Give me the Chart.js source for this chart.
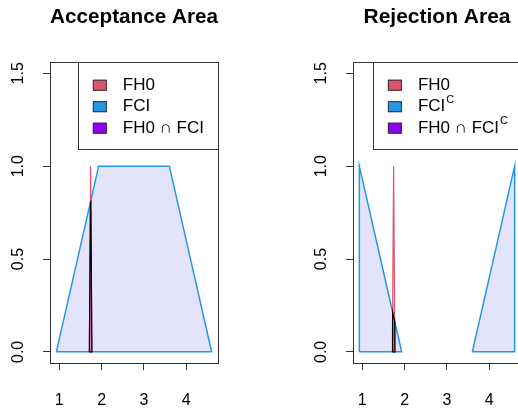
<!DOCTYPE html>
<html lang="en">
<head>
<meta charset="UTF-8" />
<title>Acceptance and Rejection Area</title>
<script src="https://cdn.jsdelivr.net/npm/chart.js"></script>
<style>
  body { margin: 0; background: #fff; }
  .wrap { position: relative; width: 518px; height: 410px; overflow: hidden; }
  canvas { position: absolute; top: 0; }
  #accept { left: 0; }
  #reject { left: 303px; }
</style>
</head>
<body>
<div class="wrap">
  <canvas id="accept" width="268" height="410"></canvas>
  <canvas id="reject" width="268" height="410"></canvas>
</div>
<script>
  // axes
  const xTicks = [1, 2, 3, 4];
  const yTicks = [0, 0.5, 1, 1.5];
  const yTickLabels = ['0.0', '0.5', '1.0', '1.5'];
  const xRange = [0.78, 4.75];
  const yRange = [-0.06, 1.56];

  // FH0: narrow triangle
  const fh0X = [1.71, 1.74, 1.77];
  const fh0Y = [0, 1, 0];
  // FCI: trapezoid
  const fciX = [0.93, 1.93, 3.6, 4.6];
  const fciY = [0, 1, 1, 0];
  // FCI complement: two triangles
  const fciCLeftX = [0.93, 0.93, 1.93];
  const fciCLeftY = [0, 1, 0];
  const fciCRightX = [3.6, 4.6, 4.6];
  const fciCRightY = [0, 1, 0];
  // intersections
  const accInterX = [1.71, 1.735, 1.745, 1.77];
  const accInterY = [0, 0.80, 0.815, 0];
  const rejInterX = [1.71, 1.716, 1.765, 1.77];
  const rejInterY = [0, 0.214, 0.165, 0];

  // legend
  const legendColors = ['#DF536B', '#2297E6', '#9000F0'];
  const accLabels = ['FH0', 'FCI', 'FH0 \u2229 FCI'];
  const accSup = [false, false, false];
  const rejLabels = ['FH0', 'FCI', 'FH0 \u2229 FCI'];
  const rejSup = [false, true, true];

  const FONT = '"Liberation Sans", Arial, Helvetica, sans-serif';
  const RED = '#DF536B', BLUE = '#2297E6';

  function polygon(xs, ys, line, fill, lw, order) {
    const pts = xs.map((x, i) => ({ x: x, y: ys[i] }));
    return [
      { data: pts, showLine: true, pointRadius: 0, borderColor: 'rgba(0,0,0,0)', borderWidth: 1,
        backgroundColor: fill, fill: 'origin', order: order + 1 },
      { data: pts.concat([pts[0]]), showLine: true, pointRadius: 0, borderColor: line,
        borderWidth: lw, fill: false, order: order }
    ];
  }

  const boxPlugin = {
    id: 'rbox',
    afterDraw(chart) {
      const a = chart.chartArea, ctx = chart.ctx;
      ctx.save();
      ctx.strokeStyle = '#333';
      ctx.lineWidth = 1;
      ctx.strokeRect(Math.round(a.left) + 0.5, Math.round(a.top) + 0.5,
        Math.round(a.right - a.left), Math.round(a.bottom - a.top));
      ctx.restore();
    }
  };

  const yLabelPlugin = {
    id: 'ylabels',
    afterDraw(chart) {
      const ctx = chart.ctx, y = chart.scales.y;
      ctx.save();
      ctx.font = '16px ' + FONT;
      ctx.fillStyle = '#000';
      ctx.textAlign = 'center';
      ctx.textBaseline = 'middle';
      yTicks.forEach((v, i) => {
        ctx.save();
        ctx.translate(19, y.getPixelForValue(v));
        ctx.rotate(-Math.PI / 2);
        ctx.fillText(yTickLabels[i], 0, 0);
        ctx.restore();
      });
      ctx.restore();
    }
  };

  const legendPlugin = {
    id: 'rlegend',
    afterDraw(chart, args, opts) {
      const ctx = chart.ctx, a = chart.chartArea;
      ctx.save();
      ctx.font = '17px ' + FONT;
      const widths = opts.labels.map((t, i) => {
        let w = ctx.measureText(t).width;
        if (opts.sup[i]) { ctx.font = '11px ' + FONT; w += ctx.measureText('C').width; ctx.font = '17px ' + FONT; }
        return w;
      });
      const boxW = 45 + Math.max(...widths) + 14;
      const left = a.right - boxW, top = a.top;
      ctx.fillStyle = '#fff';
      ctx.fillRect(left, top, boxW, 87);
      ctx.strokeStyle = '#333';
      ctx.lineWidth = 1;
      ctx.strokeRect(Math.round(left) + 0.5, Math.round(top) + 0.5, Math.round(boxW), 87);
      opts.labels.forEach((t, i) => {
        const cy = top + 23 + i * 21.5;
        ctx.fillStyle = opts.colors[i];
        ctx.fillRect(left + 15, cy - 5.5, 14, 11);
        ctx.strokeStyle = '#333';
        ctx.strokeRect(left + 15.5, cy - 5, 13, 10);
        ctx.fillStyle = '#000';
        ctx.font = '17px ' + FONT;
        ctx.textAlign = 'left';
        ctx.textBaseline = 'middle';
        ctx.fillText(t, left + 45, cy);
        if (opts.sup[i]) {
          const w = ctx.measureText(t).width;
          ctx.font = '11px ' + FONT;
          ctx.fillText('C', left + 45 + w + 1, cy - 7);
        }
      });
      ctx.restore();
    }
  };

  function makeChart(id, title, datasets, labels, sup) {
    return new Chart(document.getElementById(id), {
      type: 'scatter',
      data: { datasets: datasets },
      options: {
        responsive: false,
        animation: false,
        devicePixelRatio: 1,
        layout: { padding: { left: 50, right: 50, top: 0, bottom: 0 } },
        plugins: {
          legend: { display: false },
          tooltip: { enabled: false },
          title: {
            display: true, text: title, color: '#000',
            font: { family: FONT, size: 21, weight: 'bold', lineHeight: 1.2 },
            padding: { top: 5, bottom: 32 }
          },
          rlegend: { labels: labels, sup: sup, colors: legendColors }
        },
        scales: {
          x: {
            type: 'linear', min: xRange[0], max: xRange[1],
            afterBuildTicks: s => { s.ticks = xTicks.map(v => ({ value: v })); },
            afterFit: s => { s.height = 47; },
            grid: { drawOnChartArea: false, color: '#333', tickLength: 7 },
            border: { display: false },
            ticks: { color: '#000', font: { family: FONT, size: 16 }, padding: 21, maxRotation: 0 }
          },
          y: {
            type: 'linear', min: yRange[0], max: yRange[1],
            afterBuildTicks: s => { s.ticks = yTicks.map(v => ({ value: v })); },
            afterFit: s => { s.width = 0; },
            grid: { drawOnChartArea: false, color: '#333', tickLength: 7 },
            border: { display: false },
            ticks: { display: false }
          }
        }
      },
      plugins: [boxPlugin, yLabelPlugin, legendPlugin]
    });
  }

  const lav = 'rgba(0,0,230,0.11)';
  const pink = 'rgba(223,83,107,0.25)';
  const violet = 'rgba(144,0,240,0.3)';

  makeChart('accept', 'Acceptance Area', [].concat(
    polygon(fciX, fciY, BLUE, lav, 1.5, 4),
    polygon(fh0X, fh0Y, RED, pink, 1.2, 2),
    polygon(accInterX, accInterY, '#000', violet, 1.2, 0)
  ), accLabels, accSup);

  makeChart('reject', 'Rejection Area', [].concat(
    polygon(fciCLeftX, fciCLeftY, BLUE, lav, 1.5, 6),
    polygon(fciCRightX, fciCRightY, BLUE, lav, 1.5, 4),
    polygon(fh0X, fh0Y, RED, pink, 1.2, 2),
    polygon(rejInterX, rejInterY, '#000', violet, 1.2, 0)
  ), rejLabels, rejSup);
</script>
</body>
</html>
